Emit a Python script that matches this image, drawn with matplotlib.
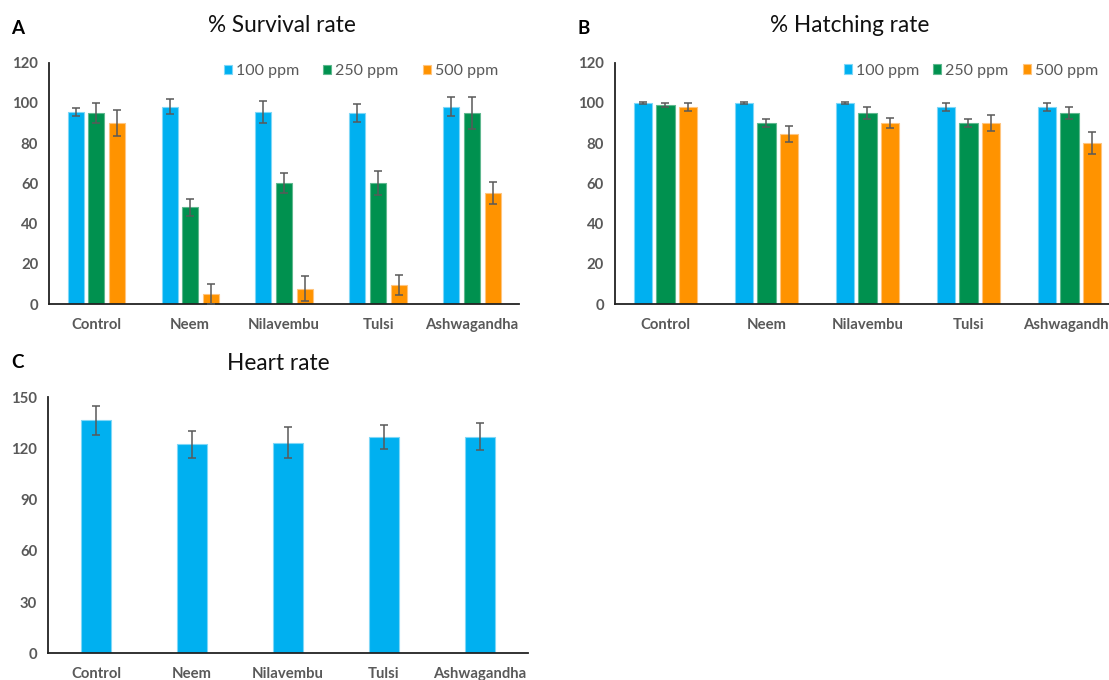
import matplotlib
matplotlib.use("Agg")
import matplotlib.pyplot as plt
import numpy as np

categories = ["Control", "Neem", "Nilavembu", "Tulsi", "Ashwagandha"]
series_names = ["100 ppm", "250 ppm", "500 ppm"]

# Panel A: % Survival rate
surv_100 = [95.5, 98, 95.5, 95, 98]
surv_250 = [95, 48, 60, 60, 95]
surv_500 = [90, 5, 7.5, 9.5, 55]
surv_100_err = [2, 3.7, 5.5, 4.3, 4.7]
surv_250_err = [5, 4, 5, 6, 7.8]
surv_500_err = [6.5, 5, 6.2, 5, 5.5]

# Panel B: % Hatching rate
hatch_100 = [100, 100, 100, 98, 98]
hatch_250 = [99, 90, 95, 90, 95]
hatch_500 = [98, 84.5, 90, 90, 80]
hatch_100_err = [0.3, 0.3, 0.3, 2, 2]
hatch_250_err = [1, 2, 3, 2, 3]
hatch_500_err = [2, 4, 2.4, 4, 5.5]

# Panel C: Heart rate
heart = [136.5, 122.5, 123.5, 126.5, 127]
heart_err = [8.5, 8, 9, 7, 7.8]

colors = ["#00B0F0", "#00914F", "#FF9300"]
edge_colors = ["#7FD7F7", "#5FB88F", "#FFC57F"]
err_color = "#595959"
tick_color = "#595959"

fig = plt.figure(figsize=(11.09, 6.80), dpi=100)

def style_axes(ax, ymax, ystep):
    ax.set_ylim(0, ymax)
    ax.set_yticks(np.arange(0, ymax + 1, ystep))
    ax.set_xticks(np.arange(len(categories)))
    ax.set_xticklabels(categories)
    ax.set_xlim(-0.5, len(categories) - 0.5)
    for s in ["top", "right"]:
        ax.spines[s].set_visible(False)
    ax.spines["left"].set_color("#222222")
    ax.spines["bottom"].set_color("#222222")
    ax.spines["left"].set_linewidth(1.3)
    ax.spines["bottom"].set_linewidth(1.3)
    ax.tick_params(axis="both", length=0, labelcolor=tick_color, labelsize=10.7)
    ax.tick_params(axis="y", pad=8)
    ax.tick_params(axis="x", pad=10)
    for lab in ax.get_xticklabels() + ax.get_yticklabels():
        lab.set_fontweight("bold")
        lab.set_fontfamily("Lato")

def grouped(ax, vals, errs, width, pitch):
    x = np.arange(len(categories))
    for i, (v, e) in enumerate(zip(vals, errs)):
        off = (i - 1) * pitch
        ax.bar(x + off, v, width=width, color=colors[i], edgecolor=edge_colors[i],
               linewidth=0.8, label=series_names[i], zorder=2)
        ax.errorbar(x + off, v, yerr=e, fmt="none", ecolor=err_color, elinewidth=1.1,
                    capsize=3, capthick=1.1, zorder=3)

legend_kw = dict(loc="center", ncol=3, frameon=False, handlelength=0.5, handleheight=0.5,
                 handletextpad=0.25, prop={"family": "Lato", "size": 11.5}, labelcolor=tick_color)

# Panel A
axA = fig.add_axes([49.3 / 1109, (680 - 304) / 680, 469.7 / 1109, (304 - 62.7) / 680])
grouped(axA, [surv_100, surv_250, surv_500], [surv_100_err, surv_250_err, surv_500_err], 0.17, 0.22)
style_axes(axA, 120, 20)
axA.legend(bbox_to_anchor=(361 / 1109, 1 - 71 / 680), bbox_transform=fig.transFigure,
           columnspacing=1.5, **legend_kw)

# Panel B
axB = fig.add_axes([615 / 1109, (680 - 304) / 680, 505 / 1109, (304 - 62.7) / 680])
grouped(axB, [hatch_100, hatch_250, hatch_500], [hatch_100_err, hatch_250_err, hatch_500_err], 0.18, 0.22)
style_axes(axB, 120, 20)
axB.legend(bbox_to_anchor=(971 / 1109, 1 - 70.7 / 680), bbox_transform=fig.transFigure,
           columnspacing=0.9, **legend_kw)

# Panel C
axC = fig.add_axes([48.3 / 1109, (680 - 653.3) / 680, 479.4 / 1109, (653.3 - 397.3) / 680])
xc = np.arange(len(categories))
axC.bar(xc, heart, width=0.31, color=colors[0], edgecolor=edge_colors[0], linewidth=0.8, zorder=2)
axC.errorbar(xc, heart, yerr=heart_err, fmt="none", ecolor=err_color, elinewidth=1.1,
             capsize=3, capthick=1.1, zorder=3)
style_axes(axC, 150, 30)

# Titles and panel letters
title_kw = dict(ha="center", va="center", fontsize=16.3, family="Lato", color="#111111")
fig.text(282 / 1109, 1 - 25 / 680, "% Survival rate", **title_kw)
fig.text(850 / 1109, 1 - 25 / 680, "% Hatching rate", **title_kw)
fig.text(278 / 1109, 1 - 363 / 680, "Heart rate", **title_kw)
letter_kw = dict(ha="center", va="center", fontsize=13.5, fontweight="bold", family="Lato")
fig.text(18 / 1109, 1 - 29 / 680, "A", **letter_kw)
fig.text(584 / 1109, 1 - 29 / 680, "B", **letter_kw)
fig.text(17 / 1109, 1 - 363 / 680, "C", **letter_kw)

fig.savefig("out.png", dpi=100)
